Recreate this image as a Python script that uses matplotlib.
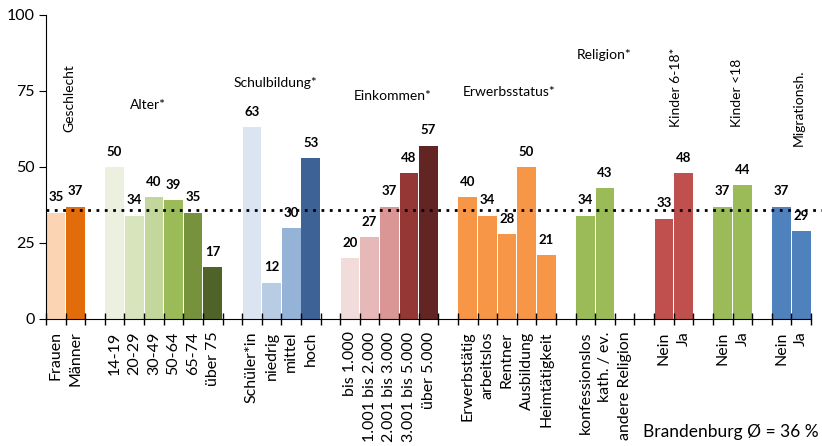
import numpy as np
import matplotlib.pyplot as plt

plt.rcParams['font.family'] = ['Lato', 'DejaVu Sans']

# one slot per category, "" = empty spacer slot
labels = ["Frauen", "Männer", "",
          "14-19", "20-29", "30-49", "50-64", "65-74", "über 75", "",
          "Schüler*in", "niedrig", "mittel", "hoch", "",
          "bis 1.000", "1.001 bis 2.000", "2.001 bis 3.000", "3.001 bis 5.000", "über 5.000", "",
          "Erwerbstätig", "arbeitslos", "Rentner", "Ausbildung", "Heimtätigkeit", "",
          "konfessionslos", "kath. / ev.", "andere Religion", "",
          "Nein", "Ja", "",
          "Nein", "Ja", "",
          "Nein", "Ja"]
values = [35, 37, None,
          50, 34, 40, 39, 35, 17, None,
          63, 12, 30, 53, None,
          20, 27, 37, 48, 57, None,
          40, 34, 28, 50, 21, None,
          34, 43, None, None,
          33, 48, None,
          37, 44, None,
          37, 29]
colors = ["#FBD4B4", "#E36C0A", None,
          "#EBF1DE", "#D7E4BC", "#C3D69B", "#9BBB59", "#76923C", "#4F6228", None,
          "#DBE5F1", "#B8CCE4", "#95B3D7", "#3D6296", None,
          "#F2DCDB", "#E6B9B8", "#D99694", "#953735", "#632523", None,
          "#F79646", "#F79646", "#F79646", "#F79646", "#F79646", None,
          "#9BBB59", "#9BBB59", None, None,
          "#C0504D", "#C0504D", None,
          "#9BBB59", "#9BBB59", None,
          "#4F81BD", "#4F81BD"]

# group titles: (text, slot position, y value, rotated)
groups = [("Geschlecht", 0.67, 61.5, True),
          ("Alter*", 4.7, 70.5, False),
          ("Schulbildung*", 11.2, 77.5, False),
          ("Einkommen*", 17.15, 73.5, False),
          ("Erwerbsstatus*", 23.1, 74.7, False),
          ("Religion*", 27.97, 87.0, False),
          ("Kinder 6-18*", 31.6, 63.0, True),
          ("Kinder <18", 34.75, 63.0, True),
          ("Migrationsh.", 37.9, 57.0, True)]
mean_bb = 36

fig = plt.figure(figsize=(8.22, 4.46), dpi=100)
ax = fig.add_axes([46 / 822, 1 - 319 / 446, (811 - 46) / 822, (319 - 15) / 446])

x = np.arange(len(labels))
for xi, v, c in zip(x, values, colors):
    if v is None:
        continue
    ax.bar(xi, v, width=0.95, color=c)
    ax.annotate(str(v), (xi, v), xytext=(0, 11), textcoords="offset points",
                ha="center", va="center", fontsize=9.5, fontweight="bold")

for text, gx, gy, rot in groups:
    if rot:
        ax.text(gx, gy, text, rotation=90, ha="center", va="bottom", fontsize=10)
    else:
        ax.text(gx, gy, text, ha="center", va="center", fontsize=10)

ax.axhline(mean_bb, xmin=0, xmax=1.015, color="black", linestyle=(0, (1, 2)),
           linewidth=2, clip_on=False, zorder=5)

ax.set_xlim(-0.5, len(labels) - 0.5)
ax.set_ylim(0, 100)
ax.set_yticks([0, 25, 50, 75, 100])
ax.tick_params(axis="y", labelsize=11.5, length=5, pad=3)
ax.set_xticks(x)
ax.set_xticklabels(labels, rotation=90, fontsize=11.5)
ax.tick_params(axis="x", length=0, pad=9)
ax.set_xticks(np.arange(len(labels) + 1) - 0.5, minor=True)
ax.tick_params(axis="x", which="minor", direction="inout", length=8, width=1)
for s in ["top", "right"]:
    ax.spines[s].set_visible(False)

fig.text(643 / 822, 1 - 432 / 446, "Brandenburg Ø = 36 %", fontsize=12.5,
         ha="left", va="center")

fig.savefig("out.png", dpi=100)
